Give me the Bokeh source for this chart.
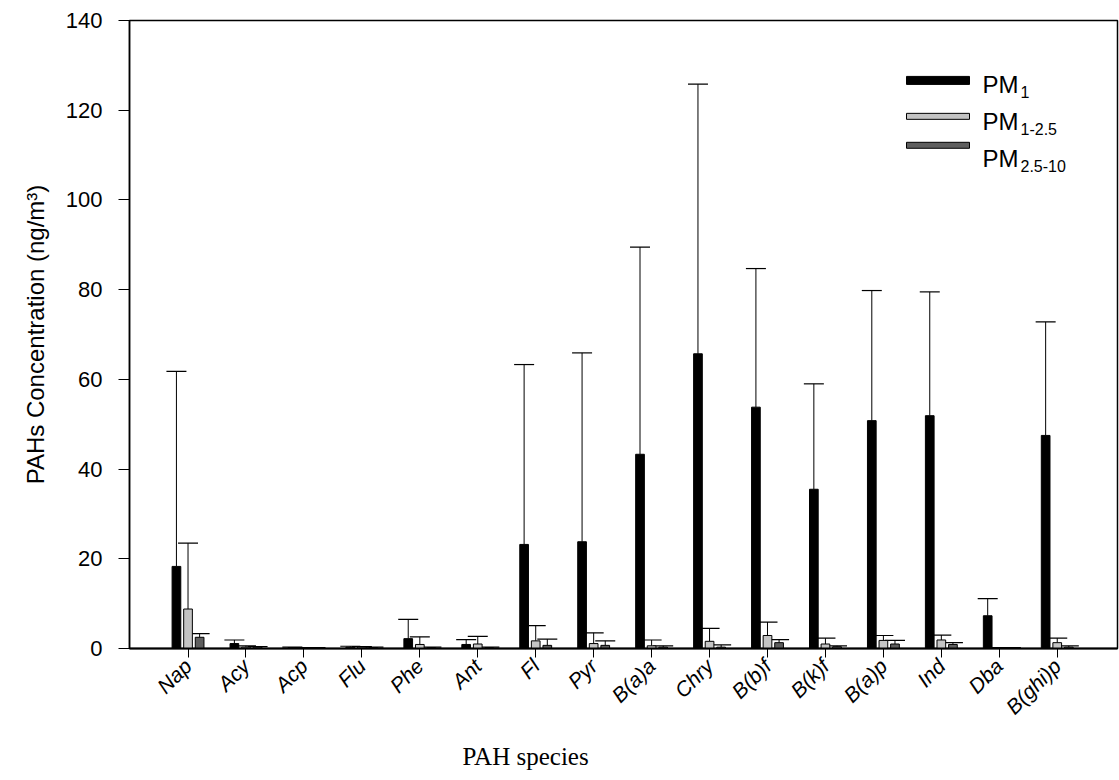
import numpy as np
from bokeh.plotting import figure
from bokeh.models import (ColumnDataSource, Range1d, FixedTicker, Whisker, TeeHead,
                          Label, BoxAnnotation, Title)
from bokeh.embed import file_html
from bokeh.resources import INLINE

# ---------------- data ----------------
species = ["Nap", "Acy", "Acp", "Flu", "Phe", "Ant", "Fl", "Pyr", "B(a)a", "Chry",
           "B(b)f", "B(k)f", "B(a)p", "Ind", "Dba", "B(ghi)p"]
pm1 = [18.3, 1.1, 0.2, 0.3, 2.2, 0.9, 23.2, 23.8, 43.3, 65.7, 53.8, 35.5, 50.8, 51.9, 7.3, 47.5]
pm1_upper = [61.8, 1.9, 0.3, 0.5, 6.5, 2.0, 63.3, 65.9, 89.5, 125.8, 84.7, 59.0, 79.8, 79.5, 11.1, 72.8]
pm1_25 = [8.8, 0.3, 0.1, 0.3, 0.9, 1.0, 1.7, 1.1, 0.6, 1.6, 2.9, 1.0, 1.8, 1.9, 0.1, 1.3]
pm1_25_upper = [23.5, 0.6, 0.2, 0.4, 2.6, 2.7, 5.1, 3.5, 1.9, 4.5, 5.9, 2.3, 2.9, 3.0, 0.2, 2.3]
pm25_10 = [2.5, 0.3, 0.1, 0.2, 0.2, 0.2, 0.7, 0.7, 0.3, 0.3, 1.3, 0.4, 1.0, 0.9, 0.1, 0.3]
pm25_10_upper = [3.3, 0.4, 0.2, 0.3, 0.3, 0.3, 2.1, 1.7, 0.6, 0.8, 2.0, 0.6, 1.8, 1.3, 0.2, 0.6]
y_ticks = [0, 20, 40, 60, 80, 100, 120, 140]

series = [
    ("1", pm1, pm1_upper, "#000000", -0.2),
    ("1-2.5", pm1_25, pm1_25_upper, "#c4c4c4", 0.0),
    ("2.5-10", pm25_10, pm25_10_upper, "#5e5e5e", 0.2),
]

# ---------------- geometry ----------------
W, H = 1119, 780
FL, FR, FT, FB = 129, 1117, 20, 649
X0, X1 = -1.01, 16.04
Y0, Y1 = 0, 140


def dx(px):
    return X0 + (px - FL) * (X1 - X0) / (FR - FL)


def dy(py):
    return Y0 + (FB - py) * (Y1 - Y0) / (FB - FT)


p = figure(width=W, height=H, output_backend="svg", toolbar_location=None,
           x_range=Range1d(X0, X1), y_range=Range1d(Y0, Y1),
           min_border_left=FL, min_border_right=W - FR,
           min_border_top=FT, min_border_bottom=H - FB)
p.background_fill_color = "white"
p.border_fill_color = "white"
p.outline_line_color = "black"
p.outline_line_width = 1.5
p.xgrid.visible = False
p.ygrid.visible = False

idx = np.arange(len(species))
for sub, vals, upper, color, off in series:
    src = ColumnDataSource(dict(x=idx + off, top=vals, upper=upper))
    p.vbar(x="x", top="top", bottom=0, width=0.15, source=src,
           fill_color=color, line_color="black", line_width=1)
    w = Whisker(base="x", lower="top", upper="upper", source=src,
                line_color="black", line_width=1,
                upper_head=TeeHead(size=20, line_color="black", line_width=1.2),
                lower_head=None)
    p.add_layout(w)

# axes
p.xaxis.ticker = FixedTicker(ticks=list(idx))
p.xaxis.major_label_overrides = {int(i): s for i, s in zip(idx, species)}
p.xaxis.major_label_orientation = np.pi / 4
p.xaxis.major_label_text_font = "Liberation Sans"
p.xaxis.major_label_text_font_style = "italic"
p.xaxis.major_label_text_font_size = "21px"
p.xaxis.major_label_text_color = "black"
p.xaxis.major_tick_out = 9
p.xaxis.major_tick_in = 0
p.xaxis.minor_tick_line_color = None
p.xaxis.axis_line_width = 2
p.xaxis.major_label_standoff = 5

p.yaxis.ticker = FixedTicker(ticks=y_ticks)
p.yaxis.major_label_text_font = "Liberation Sans"
p.yaxis.major_label_text_font_size = "22px"
p.yaxis.major_label_text_color = "black"
p.yaxis.major_tick_out = 11
p.yaxis.major_tick_in = 0
p.yaxis.minor_tick_line_color = None
p.yaxis.axis_line_width = 1.5
p.yaxis.major_label_standoff = 16
p.yaxis.axis_label = "PAHs Concentration (ng/m³)"
p.yaxis.axis_label_text_font = "Liberation Sans"
p.yaxis.axis_label_text_font_style = "normal"
p.yaxis.axis_label_text_font_size = "24px"
p.yaxis.axis_label_text_color = "black"
p.yaxis.axis_label_standoff = 14

# x-axis title (offset to the left as in the reference)
p.add_layout(Title(text="PAH species", align="left", offset=333, standoff=22,
                   text_font="Liberation Serif", text_font_size="25px",
                   text_font_style="normal", text_color="black"), "below")

# legend drawn manually (with subscripts)
patch_rows = [(80, 8), (116, 6), (145, 6)]
text_base = [84, 121, 158]
for (sub, vals, upper, color, off), (cy, hh), tb in zip(series, patch_rows, text_base):
    p.add_layout(BoxAnnotation(left=dx(906), right=dx(969), bottom=dy(cy + hh / 2),
                               top=dy(cy - hh / 2), fill_color=color, fill_alpha=1,
                               line_color="black", line_width=1, line_alpha=1))
    p.add_layout(Label(x=dx(982), y=dy(tb), text="PM", text_font="Liberation Sans",
                       text_font_size="24px", text_baseline="alphabetic",
                       text_color="black"))
    p.add_layout(Label(x=dx(1020), y=dy(tb + 8), text=sub, text_font="Liberation Sans",
                       text_font_size="16px", text_baseline="alphabetic",
                       text_color="black"))

open("out.html", "w").write(file_html(p, INLINE))
